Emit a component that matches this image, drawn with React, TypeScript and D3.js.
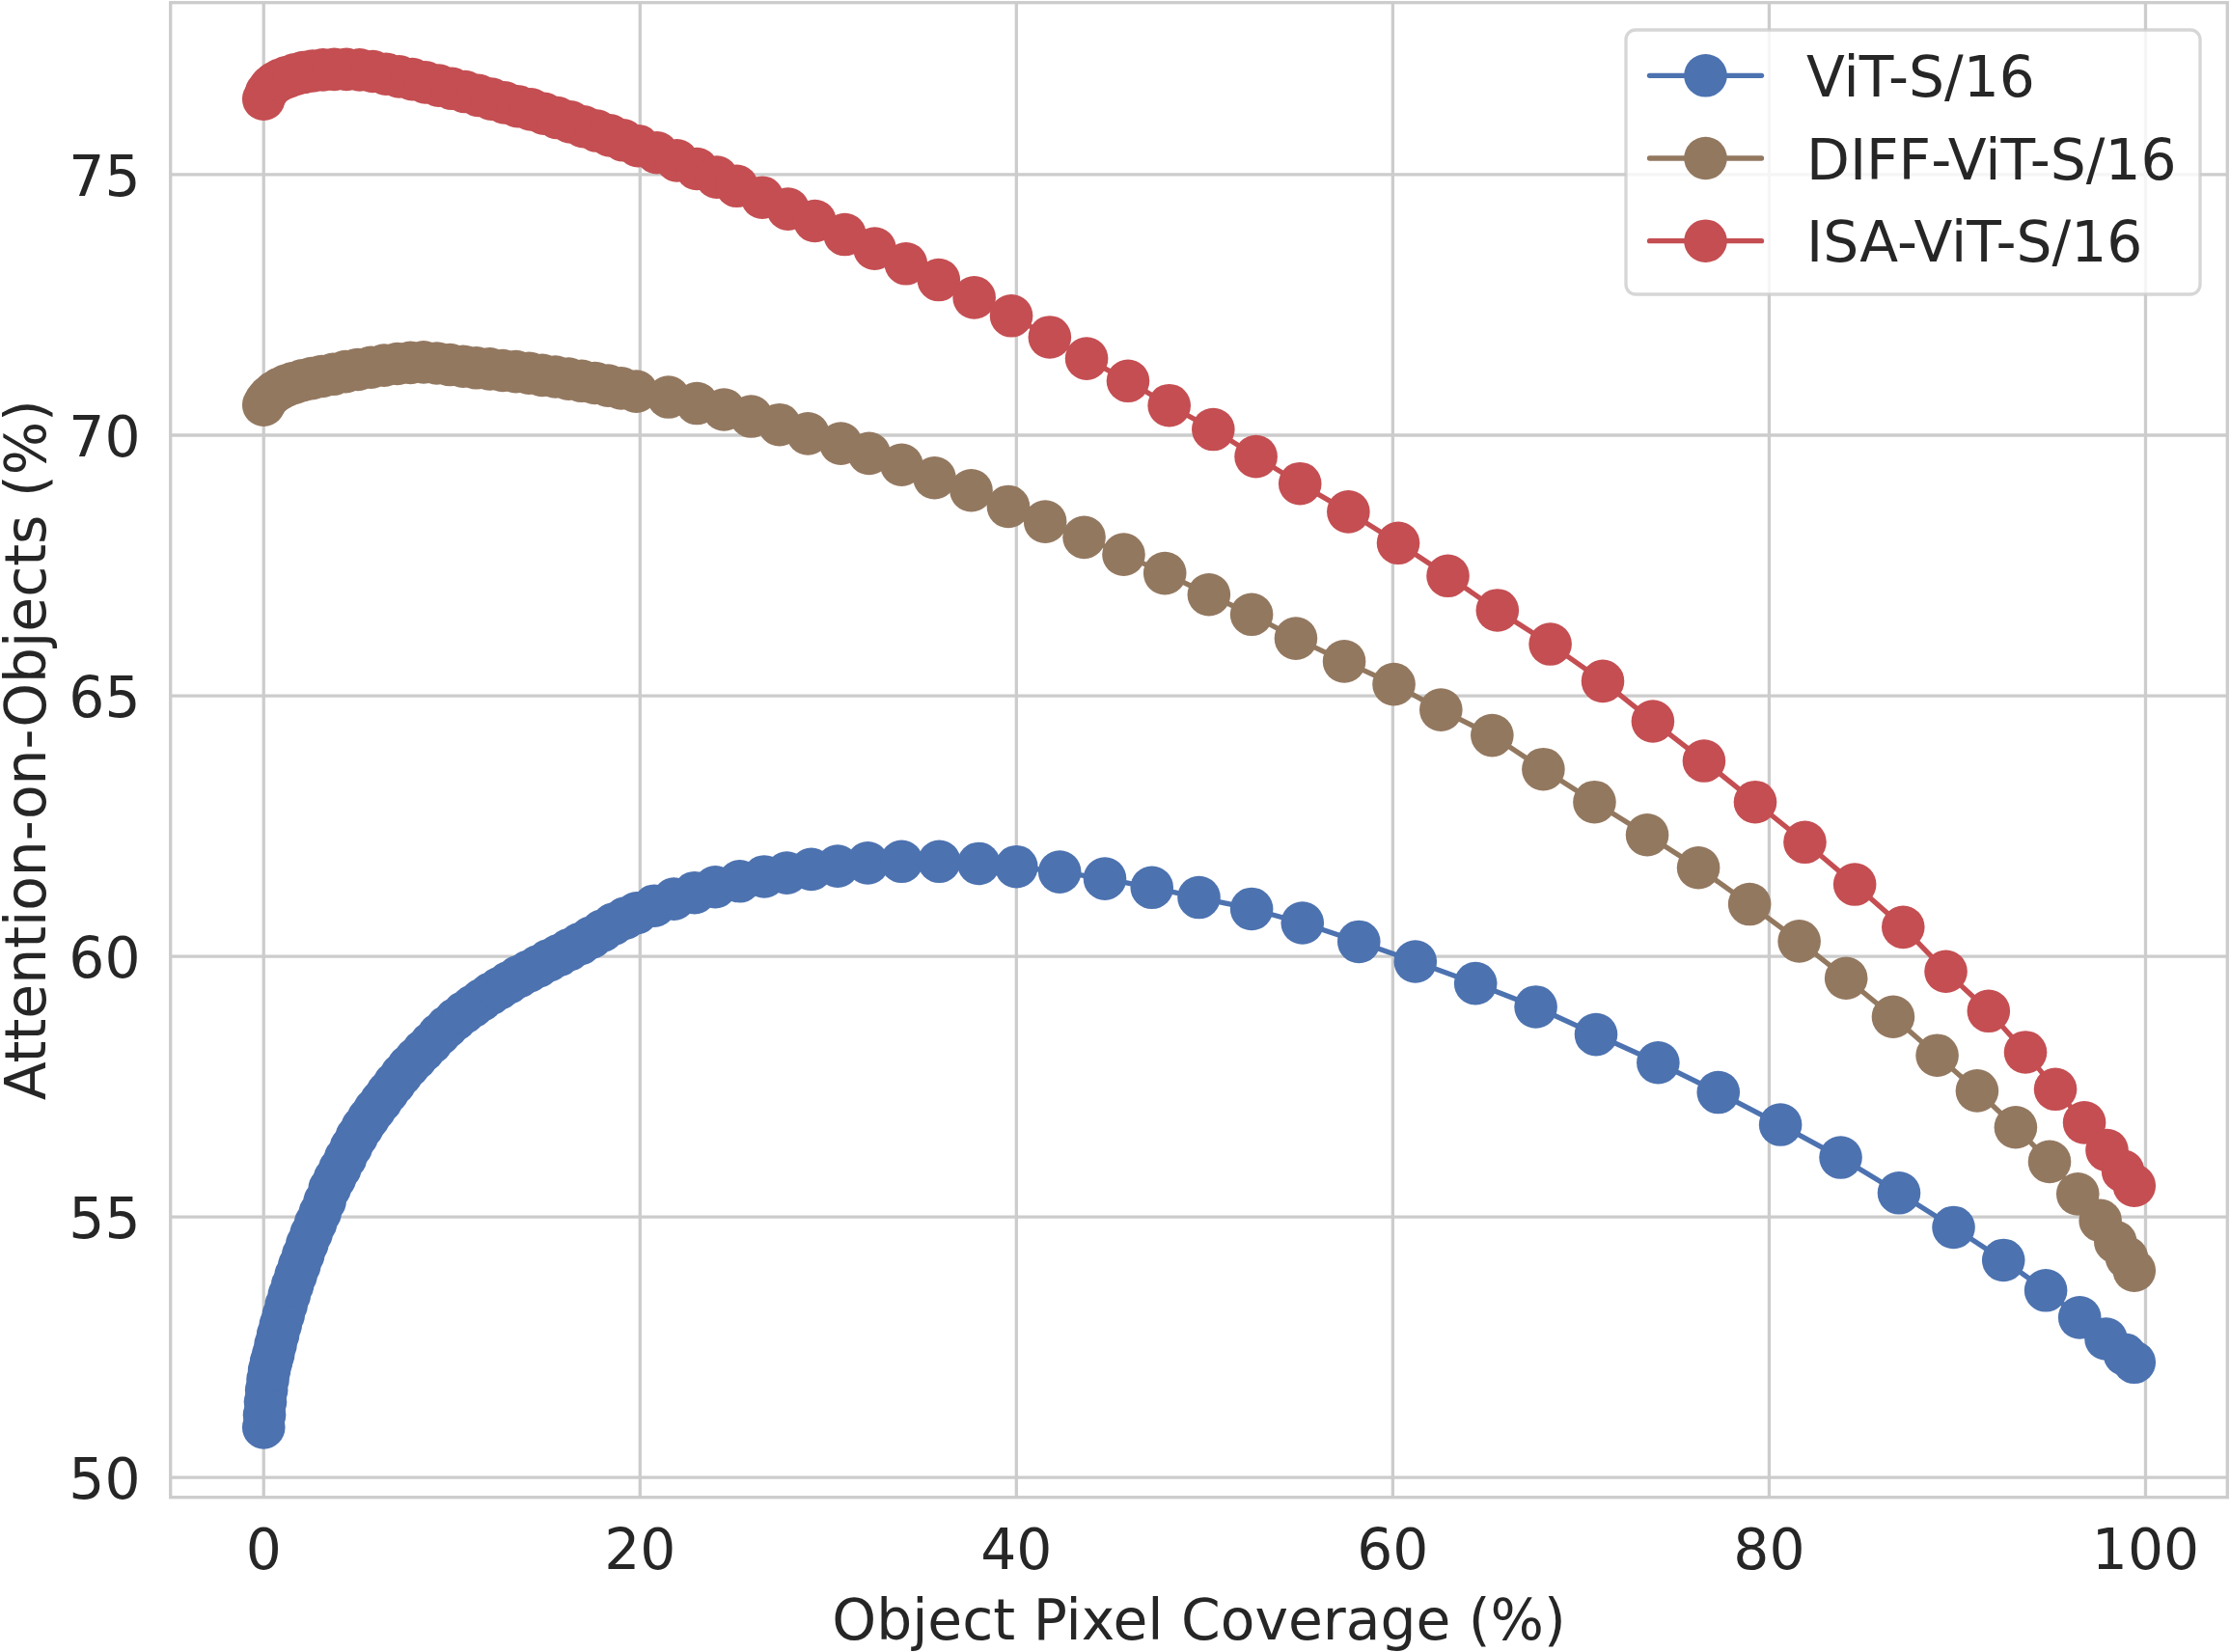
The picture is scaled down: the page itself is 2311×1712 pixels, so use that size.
import React from "react";
import * as d3 from "d3";

// figure size of the reference
const W = 2311;
const H = 1712;

const xTicks = [0, 20, 40, 60, 80, 100];
const yTicks = [50, 55, 60, 65, 70, 75];
const xLabel = "Object Pixel Coverage (%)";
const yLabel = "Attention-on-Objects (%)";

const seriesNames = ["ViT-S/16", "DIFF-ViT-S/16", "ISA-ViT-S/16"];
const seriesColors = ["#4c72b0", "#937860", "#c44e52"];

// [coverage %, attention %]
const vitPoints: [number, number][] = [
  [0.0, 50.96], [0.04, 51.2], [0.09, 51.45], [0.15, 51.68], [0.22, 51.88], [0.3, 52.06],
  [0.4, 52.22], [0.51, 52.36], [0.63, 52.55], [0.76, 52.74], [0.9, 52.93], [1.05, 53.12],
  [1.2, 53.31], [1.36, 53.5], [1.53, 53.69], [1.71, 53.88], [1.9, 54.07], [2.1, 54.27],
  [2.31, 54.48], [2.53, 54.68], [2.76, 54.88], [3.0, 55.08], [3.25, 55.3], [3.51, 55.55],
  [3.78, 55.74], [4.06, 55.93], [4.35, 56.13], [4.65, 56.34], [4.95, 56.54], [5.25, 56.72],
  [5.57, 56.89], [5.9, 57.06], [6.24, 57.22], [6.59, 57.39], [6.95, 57.56], [7.32, 57.73],
  [7.7, 57.89], [8.09, 58.04], [8.49, 58.19], [8.9, 58.34], [9.32, 58.5], [9.75, 58.65],
  [10.19, 58.79], [10.64, 58.92], [11.1, 59.04], [11.57, 59.16], [12.05, 59.28], [12.54, 59.39],
  [13.04, 59.5], [13.55, 59.61], [14.07, 59.71], [14.6, 59.81], [15.14, 59.92], [15.69, 60.02],
  [16.25, 60.13], [16.82, 60.24], [17.4, 60.36], [17.99, 60.49], [18.59, 60.62], [19.2, 60.73],
  [19.82, 60.83], [20.76, 60.97], [21.8, 61.1], [22.9, 61.22], [24.0, 61.33], [25.3, 61.44],
  [26.6, 61.53], [27.8, 61.6], [29.1, 61.67], [30.5, 61.73], [32.1, 61.79], [33.9, 61.82],
  [35.9, 61.82], [38.0, 61.78], [40.0, 61.72], [42.3, 61.62], [44.7, 61.49], [47.2, 61.32],
  [49.7, 61.13], [52.5, 60.91], [55.2, 60.64], [58.2, 60.28], [61.2, 59.9], [64.4, 59.48],
  [67.6, 59.03], [70.8, 58.5], [74.1, 57.96], [77.3, 57.39], [80.6, 56.77], [83.8, 56.14],
  [86.9, 55.46], [89.8, 54.8], [92.45, 54.17], [94.7, 53.59], [96.5, 53.07], [97.9, 52.66],
  [98.9, 52.36], [99.4, 52.21],
];

const diffPoints: [number, number][] = [
  [0.0, 70.58], [0.12, 70.66], [0.3, 70.74], [0.55, 70.82], [0.85, 70.89], [1.2, 70.95],
  [1.6, 71.0], [2.05, 71.05], [2.55, 71.09], [3.1, 71.13], [3.7, 71.17], [4.35, 71.22],
  [5.0, 71.26], [5.7, 71.3], [6.4, 71.34], [7.1, 71.37], [7.8, 71.39], [8.5, 71.4],
  [9.2, 71.38], [9.9, 71.35], [10.6, 71.32], [11.3, 71.29], [12.0, 71.27], [12.7, 71.24],
  [13.4, 71.22], [14.1, 71.19], [14.8, 71.15], [15.5, 71.12], [16.2, 71.08], [16.9, 71.04],
  [17.6, 71.0], [18.3, 70.95], [19.0, 70.9], [19.8, 70.84], [21.51, 70.73], [23.02, 70.61],
  [24.46, 70.49], [25.9, 70.36], [27.41, 70.2], [28.92, 70.03], [30.67, 69.84], [32.17, 69.65],
  [33.9, 69.43], [35.65, 69.18], [37.6, 68.94], [39.57, 68.63], [41.53, 68.34], [43.6, 68.04],
  [45.7, 67.71], [47.89, 67.35], [50.23, 66.94], [52.5, 66.56], [54.85, 66.1], [57.42, 65.66],
  [60.06, 65.22], [62.56, 64.73], [65.28, 64.24], [68.0, 63.59], [70.72, 62.96], [73.52, 62.33],
  [76.24, 61.7], [78.96, 61.0], [81.6, 60.29], [84.09, 59.58], [86.59, 58.84], [88.93, 58.1],
  [91.05, 57.42], [93.1, 56.72], [94.9, 56.06], [96.4, 55.44], [97.6, 54.93], [98.4, 54.52],
  [99.0, 54.22], [99.4, 53.97],
];

const isaPoints: [number, number][] = [
  [0.0, 76.45], [0.15, 76.58], [0.35, 76.68], [0.6, 76.76], [0.9, 76.82], [1.25, 76.87],
  [1.65, 76.92], [2.1, 76.96], [2.6, 76.99], [3.15, 77.01], [3.75, 77.02], [4.4, 77.02],
  [5.1, 77.01], [5.8, 76.98], [6.5, 76.93], [7.2, 76.88], [7.9, 76.83], [8.6, 76.77],
  [9.3, 76.71], [10.0, 76.65], [10.7, 76.59], [11.4, 76.52], [12.1, 76.45], [12.8, 76.38],
  [13.5, 76.31], [14.2, 76.25], [14.9, 76.17], [15.6, 76.09], [16.3, 76.01], [17.0, 75.92],
  [17.7, 75.84], [18.4, 75.75], [19.1, 75.66], [19.9, 75.55], [20.9, 75.42], [21.96, 75.27],
  [23.02, 75.11], [24.08, 74.95], [25.14, 74.78], [26.5, 74.56], [27.86, 74.34], [29.29, 74.11],
  [30.88, 73.85], [32.47, 73.58], [34.13, 73.29], [35.87, 72.98], [37.76, 72.64], [39.73, 72.29],
  [41.77, 71.88], [43.73, 71.47], [45.93, 71.04], [48.12, 70.57], [50.46, 70.11], [52.73, 69.59],
  [55.07, 69.07], [57.64, 68.53], [60.29, 67.93], [62.93, 67.3], [65.56, 66.64], [68.37, 65.99],
  [71.16, 65.28], [73.82, 64.51], [76.54, 63.75], [79.26, 62.96], [81.9, 62.19], [84.55, 61.38],
  [87.12, 60.56], [89.39, 59.71], [91.66, 58.95], [93.62, 58.16], [95.21, 57.45], [96.75, 56.81],
  [97.95, 56.28], [98.8, 55.88], [99.4, 55.6],
];

const allSeries = [vitPoints, diffPoints, isaPoints];

const FONT = "DejaVu Sans, sans-serif";
const FS = 58.3;
const TEXT = "#262626";
const GRID = "#cccccc";

export default function App() {
  // plot box
  const left = 176.7, right = 2308.3, top = 2.7, bottom = 1551.7;

  const x = d3.scaleLinear().domain([-4.95, 104.35]).range([left, right]);
  const y = d3.scaleLinear().domain([49.62, 78.3]).range([bottom, top]);

  const line = d3
    .line<[number, number]>()
    .x((d) => x(d[0]))
    .y((d) => y(d[1]));

  const r = 22.3;
  const lw = 5.3;

  // legend box
  const lg = { x: 1685, y: 31, w: 595, h: 274 };
  const rowY = (i: number) => 78.3 + i * 85.7;

  return (
    <svg
      width={W}
      height={H}
      style={{ position: "absolute", left: 0, top: 0, display: "block", background: "#fff" }}
      fontFamily={FONT}
    >
      <rect x={0} y={0} width={W} height={H} fill="#fff" />

      {/* grid */}
      <g stroke={GRID} strokeWidth={3.3}>
        {xTicks.map((t) => (
          <line key={"gx" + t} x1={x(t)} x2={x(t)} y1={top} y2={bottom} />
        ))}
        {yTicks.map((t) => (
          <line key={"gy" + t} x1={left} x2={right} y1={y(t)} y2={y(t)} />
        ))}
      </g>

      {/* frame */}
      <rect
        x={left}
        y={top}
        width={right - left}
        height={bottom - top}
        fill="none"
        stroke={GRID}
        strokeWidth={3.3}
      />

      {/* series */}
      {allSeries.map((pts, i) => (
        <g key={seriesNames[i]} fill={seriesColors[i]}>
          <path
            d={line(pts) ?? ""}
            fill="none"
            stroke={seriesColors[i]}
            strokeWidth={lw}
            strokeLinejoin="round"
            strokeLinecap="round"
          />
          {pts.map((p, j) => (
            <circle key={j} cx={x(p[0])} cy={y(p[1])} r={r} />
          ))}
        </g>
      ))}

      {/* x tick labels */}
      <g fill={TEXT} fontSize={FS} textAnchor="middle">
        {xTicks.map((t) => (
          <text key={"xt" + t} x={x(t)} y={1626}>
            {t}
          </text>
        ))}
      </g>

      {/* y tick labels */}
      <g fill={TEXT} fontSize={FS} textAnchor="end">
        {yTicks.map((t) => (
          <text key={"yt" + t} x={145.5} y={y(t) + 21.6}>
            {t}
          </text>
        ))}
      </g>

      {/* axis titles */}
      <text
        x={(left + right) / 2}
        y={1699}
        fill={TEXT}
        fontSize={FS}
        textAnchor="middle"
      >
        {xLabel}
      </text>
      <text
        transform={`translate(46.5,${(top + bottom) / 2}) rotate(-90)`}
        fill={TEXT}
        fontSize={FS}
        textAnchor="middle"
      >
        {yLabel}
      </text>

      {/* legend */}
      <rect
        x={lg.x}
        y={lg.y}
        width={lg.w}
        height={lg.h}
        rx={10}
        fill="#fff"
        fillOpacity={0.8}
        stroke={GRID}
        strokeOpacity={0.8}
        strokeWidth={3.3}
      />
      {seriesNames.map((name, i) => (
        <g key={"lg" + name}>
          <line
            x1={1709.5}
            x2={1825.5}
            y1={rowY(i)}
            y2={rowY(i)}
            stroke={seriesColors[i]}
            strokeWidth={lw}
            strokeLinecap="round"
          />
          <circle cx={1767.5} cy={rowY(i)} r={r} fill={seriesColors[i]} />
          <text x={1872} y={rowY(i) + 21.6} fill={TEXT} fontSize={FS}>
            {name}
          </text>
        </g>
      ))}
    </svg>
  );
}
